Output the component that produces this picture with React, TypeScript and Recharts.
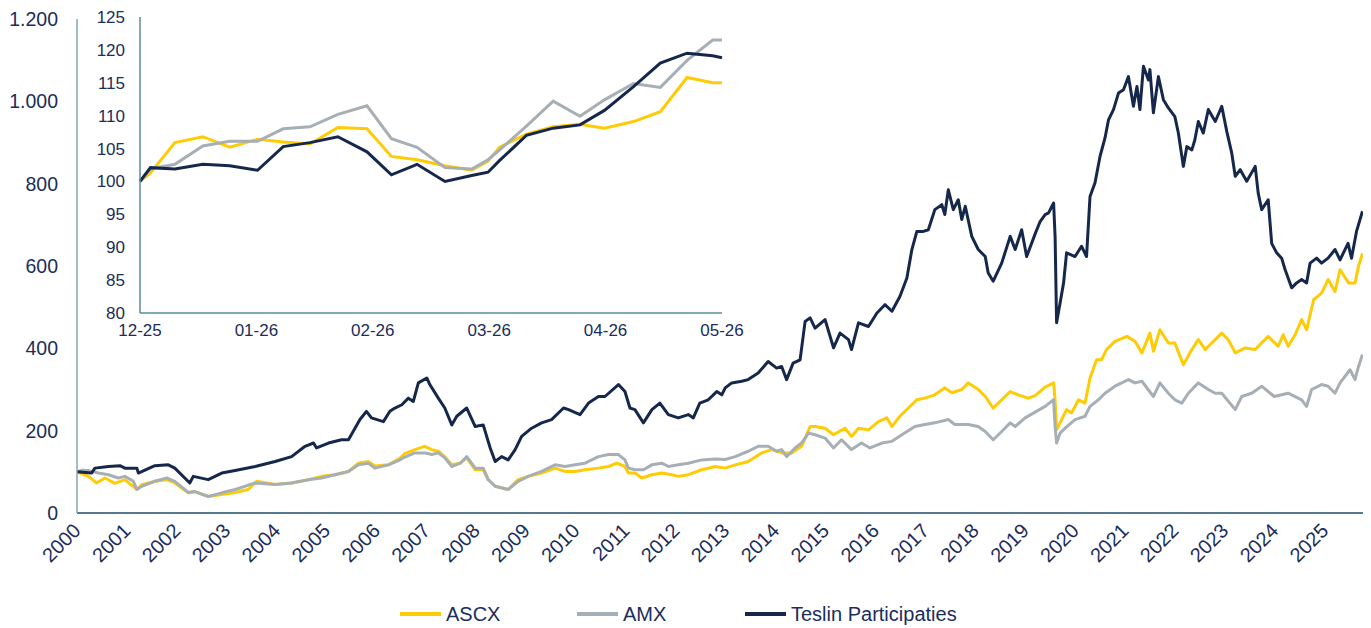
import { LineChart, Line, XAxis, YAxis } from 'recharts';

const FONT = '"Liberation Sans", Arial, Helvetica, sans-serif';
const TXT = '#1b2d5b';
const YELLOW = '#ffcb05';
const GREY = '#a7afb6';
const NAVY = '#15284b';

const seriesNames = ['ASCX', 'AMX', 'Teslin Participaties'];
const seriesColors = [YELLOW, GREY, NAVY];
const legendLeft = [400, 577, 745];

// main chart: [year, index]
const yearTicks = [
  2000, 2001, 2002, 2003, 2004, 2005, 2006, 2007, 2008, 2009, 2010, 2011, 2012,
  2013, 2014, 2015, 2016, 2017, 2018, 2019, 2020, 2021, 2022, 2023, 2024, 2025,
];
const mainYTicks = [0, 200, 400, 600, 800, 1000, 1200];

const ascx: [number, number][] = [
  [2000.0, 100], [2000.23, 89], [2000.39, 73], [2000.56, 85], [2000.76, 72], [2000.96, 81],
  [2001.2, 57], [2001.3, 69], [2001.56, 77], [2001.8, 81], [2001.96, 73], [2002.23, 49],
  [2002.36, 52], [2002.63, 40], [2002.9, 45], [2003.17, 50], [2003.43, 57], [2003.6, 77],
  [2003.97, 69], [2004.3, 73], [2004.64, 81], [2004.9, 89], [2005.17, 93], [2005.44, 101],
  [2005.64, 121], [2005.84, 125], [2005.97, 114], [2006.24, 117], [2006.47, 133], [2006.57, 144],
  [2006.77, 154], [2006.97, 162], [2007.11, 154], [2007.24, 150], [2007.37, 137], [2007.51, 117],
  [2007.68, 121], [2007.81, 134], [2007.98, 105], [2008.14, 105], [2008.24, 81], [2008.38, 65],
  [2008.64, 57], [2008.84, 81], [2009.04, 89], [2009.31, 97], [2009.58, 109], [2009.78, 101],
  [2009.98, 101], [2010.18, 105], [2010.45, 109], [2010.65, 113], [2010.82, 121], [2010.98, 113],
  [2011.05, 97], [2011.18, 97], [2011.32, 85], [2011.52, 93], [2011.72, 97], [2011.92, 93],
  [2012.05, 89], [2012.25, 93], [2012.52, 105], [2012.79, 113], [2012.99, 109], [2013.19, 117],
  [2013.45, 125], [2013.72, 146], [2013.92, 154], [2014.12, 146], [2014.32, 146], [2014.52, 162],
  [2014.69, 210], [2014.79, 210], [2014.99, 206], [2015.16, 190], [2015.39, 206], [2015.52, 186],
  [2015.66, 206], [2015.86, 202], [2016.06, 222], [2016.23, 231], [2016.33, 210], [2016.49, 235],
  [2016.66, 255], [2016.83, 275], [2016.99, 279], [2017.19, 287], [2017.39, 304], [2017.53, 292],
  [2017.73, 300], [2017.86, 316], [2018.06, 300], [2018.2, 283], [2018.36, 255], [2018.53, 275],
  [2018.7, 295], [2018.86, 287], [2019.06, 279], [2019.2, 285], [2019.4, 306], [2019.57, 316],
  [2019.6, 275], [2019.63, 202], [2019.73, 227], [2019.83, 251], [2019.93, 243], [2020.07, 275],
  [2020.2, 267], [2020.3, 328], [2020.43, 372], [2020.53, 372], [2020.63, 397], [2020.8, 417],
  [2021.04, 429], [2021.2, 417], [2021.34, 389], [2021.5, 437], [2021.57, 393], [2021.7, 445],
  [2021.87, 413], [2022.0, 413], [2022.17, 360], [2022.34, 397], [2022.47, 421], [2022.61, 397],
  [2022.74, 413], [2022.94, 437], [2023.07, 421], [2023.21, 389], [2023.41, 401], [2023.61, 397],
  [2023.87, 429], [2024.07, 405], [2024.17, 433], [2024.27, 405], [2024.41, 433], [2024.54, 470],
  [2024.64, 445], [2024.78, 518], [2024.94, 534], [2025.07, 567], [2025.21, 538], [2025.31, 591],
  [2025.48, 559], [2025.61, 559], [2025.68, 599], [2025.76, 631],
];

const amx: [number, number][] = [
  [2000.0, 100], [2000.1, 104], [2000.23, 103], [2000.43, 97], [2000.63, 93], [2000.83, 85],
  [2000.96, 89], [2001.13, 77], [2001.2, 57], [2001.3, 65], [2001.56, 77], [2001.8, 85],
  [2001.96, 77], [2002.23, 50], [2002.36, 52], [2002.63, 40], [2002.9, 49], [2003.17, 57],
  [2003.57, 73], [2003.97, 69], [2004.3, 73], [2004.64, 81], [2004.9, 85], [2005.17, 93],
  [2005.44, 101], [2005.64, 117], [2005.84, 121], [2005.97, 109], [2006.24, 117], [2006.47, 129],
  [2006.57, 136], [2006.77, 146], [2006.97, 146], [2007.11, 142], [2007.24, 146], [2007.37, 134],
  [2007.51, 113], [2007.68, 121], [2007.81, 137], [2007.98, 109], [2008.14, 109], [2008.24, 81],
  [2008.38, 65], [2008.64, 57], [2008.84, 77], [2009.04, 89], [2009.31, 101], [2009.58, 117],
  [2009.78, 113], [2009.98, 117], [2010.18, 121], [2010.45, 137], [2010.65, 142], [2010.85, 142],
  [2010.98, 129], [2011.05, 109], [2011.18, 105], [2011.35, 105], [2011.52, 117], [2011.72, 121],
  [2011.85, 113], [2012.05, 117], [2012.25, 121], [2012.52, 129], [2012.79, 131], [2012.99, 130],
  [2013.19, 137], [2013.45, 150], [2013.65, 162], [2013.85, 162], [2014.02, 150], [2014.12, 154],
  [2014.22, 137], [2014.39, 158], [2014.52, 170], [2014.66, 194], [2014.79, 190], [2014.99, 182],
  [2015.16, 158], [2015.32, 178], [2015.52, 154], [2015.72, 170], [2015.89, 158], [2016.13, 170],
  [2016.33, 174], [2016.53, 190], [2016.79, 210], [2016.99, 215], [2017.19, 219], [2017.46, 227],
  [2017.59, 215], [2017.86, 215], [2018.06, 210], [2018.2, 198], [2018.36, 178], [2018.53, 198],
  [2018.7, 219], [2018.8, 210], [2019.0, 231], [2019.2, 245], [2019.4, 259], [2019.57, 275],
  [2019.6, 210], [2019.63, 170], [2019.7, 194], [2019.8, 206], [2020.0, 227], [2020.2, 235],
  [2020.3, 259], [2020.47, 275], [2020.6, 291], [2020.8, 308], [2021.07, 324], [2021.2, 316],
  [2021.34, 320], [2021.57, 283], [2021.7, 316], [2021.87, 291], [2022.0, 275], [2022.14, 267],
  [2022.27, 291], [2022.47, 316], [2022.67, 300], [2022.81, 291], [2022.94, 291], [2023.21, 251],
  [2023.34, 283], [2023.54, 291], [2023.74, 308], [2023.99, 283], [2024.27, 291], [2024.54, 275],
  [2024.64, 259], [2024.74, 300], [2024.94, 312], [2025.07, 308], [2025.21, 291], [2025.31, 316],
  [2025.51, 348], [2025.61, 324], [2025.68, 356], [2025.76, 385],
];

const teslin: [number, number][] = [
  [2000.0, 100], [2000.29, 97], [2000.36, 109], [2000.63, 113], [2000.86, 115], [2000.96, 109],
  [2001.2, 109], [2001.23, 97], [2001.56, 115], [2001.83, 117], [2001.96, 109], [2002.26, 73],
  [2002.33, 89], [2002.63, 81], [2002.9, 97], [2003.17, 103], [2003.57, 113], [2003.97, 125],
  [2004.3, 137], [2004.57, 162], [2004.74, 170], [2004.8, 158], [2005.04, 170], [2005.3, 178],
  [2005.44, 178], [2005.67, 227], [2005.8, 247], [2005.9, 231], [2006.14, 222], [2006.27, 247],
  [2006.37, 255], [2006.51, 263], [2006.64, 279], [2006.74, 271], [2006.84, 316], [2007.01, 328],
  [2007.07, 312], [2007.24, 279], [2007.37, 255], [2007.51, 214], [2007.61, 235], [2007.81, 255],
  [2007.98, 210], [2008.14, 214], [2008.28, 158], [2008.38, 125], [2008.51, 137], [2008.64, 129],
  [2008.78, 154], [2008.91, 186], [2009.11, 206], [2009.31, 219], [2009.51, 227], [2009.75, 255],
  [2009.85, 251], [2010.08, 239], [2010.25, 267], [2010.45, 283], [2010.58, 283], [2010.85, 312],
  [2010.98, 295], [2011.08, 255], [2011.18, 251], [2011.35, 219], [2011.52, 251], [2011.68, 267],
  [2011.85, 239], [2012.05, 231], [2012.25, 239], [2012.35, 231], [2012.48, 267], [2012.65, 275],
  [2012.82, 295], [2012.92, 287], [2012.99, 304], [2013.12, 316], [2013.32, 320], [2013.45, 324],
  [2013.65, 340], [2013.85, 368], [2014.02, 352], [2014.12, 356], [2014.22, 324], [2014.35, 364],
  [2014.49, 372], [2014.59, 465], [2014.69, 474], [2014.79, 449], [2014.99, 470], [2015.16, 401],
  [2015.29, 437], [2015.46, 421], [2015.52, 397], [2015.66, 462], [2015.86, 453], [2016.03, 486],
  [2016.19, 506], [2016.33, 490], [2016.49, 526], [2016.63, 571], [2016.73, 640], [2016.83, 684],
  [2016.96, 684], [2017.06, 688], [2017.19, 737], [2017.33, 749], [2017.39, 725], [2017.46, 785],
  [2017.56, 737], [2017.66, 761], [2017.73, 713], [2017.8, 745], [2017.93, 672], [2018.06, 640],
  [2018.2, 623], [2018.26, 583], [2018.36, 563], [2018.53, 607], [2018.7, 672], [2018.8, 640],
  [2018.93, 688], [2019.03, 623], [2019.2, 678], [2019.3, 708], [2019.4, 725], [2019.47, 729],
  [2019.57, 753], [2019.6, 672], [2019.63, 462], [2019.7, 510], [2019.77, 559], [2019.83, 632],
  [2020.0, 623], [2020.13, 648], [2020.23, 623], [2020.3, 769], [2020.4, 802], [2020.5, 866],
  [2020.6, 911], [2020.67, 955], [2020.77, 980], [2020.87, 1020], [2020.97, 1028], [2021.07, 1060],
  [2021.17, 988], [2021.24, 1036], [2021.3, 980], [2021.37, 1085], [2021.47, 1052], [2021.5, 1077],
  [2021.57, 972], [2021.67, 1060], [2021.77, 1004], [2021.87, 984], [2022.0, 963], [2022.07, 923],
  [2022.17, 842], [2022.24, 890], [2022.34, 882], [2022.4, 906], [2022.47, 951], [2022.57, 923],
  [2022.67, 980], [2022.81, 951], [2022.94, 988], [2023.04, 927], [2023.14, 874], [2023.21, 818],
  [2023.31, 834], [2023.44, 806], [2023.61, 842], [2023.67, 777], [2023.74, 737], [2023.87, 761],
  [2023.94, 655], [2024.04, 632], [2024.14, 619], [2024.21, 591], [2024.34, 547], [2024.44, 559],
  [2024.54, 567], [2024.64, 559], [2024.71, 607], [2024.84, 619], [2024.94, 607], [2025.07, 619],
  [2025.21, 640], [2025.31, 615], [2025.47, 655], [2025.54, 619], [2025.64, 684], [2025.76, 733],
];

// inset: months since 12-25
const insetLabels = ['12-25', '01-26', '02-26', '03-26', '04-26', '05-26'];
const insetYTicks = [80, 85, 90, 95, 100, 105, 110, 115, 120, 125];
const insetT = [
  0, 0.09, 0.3, 0.54, 0.77, 1.01, 1.23, 1.46, 1.7, 1.95, 2.16, 2.38, 2.62,
  2.85, 2.99, 3.09, 3.32, 3.55, 3.78, 3.99, 4.24, 4.47, 4.7, 4.92, 5,
];
const insetAscx = [
  100, 101.3, 105.9, 106.8, 105.2, 106.4, 106.0, 105.7, 108.2, 108.0, 103.8, 103.3, 102.4,
  101.7, 103.1, 105.2, 107.2, 108.3, 108.7, 108.1, 109.1, 110.6, 115.8, 115.0, 115.0,
];
const insetAmx = [
  100, 101.9, 102.6, 105.4, 106.1, 106.1, 108.0, 108.3, 110.2, 111.5, 106.5, 105.2, 102.1,
  101.9, 103.3, 104.8, 108.4, 112.2, 109.9, 112.4, 114.9, 114.3, 118.4, 121.5, 121.5,
];
const insetTeslin = [
  100, 102.1, 101.9, 102.6, 102.4, 101.7, 105.3, 105.9, 106.8, 104.5, 101.0, 102.6, 100.0,
  100.9, 101.4, 103.2, 107.0, 108.1, 108.6, 110.8, 114.4, 118.0, 119.5, 119.1, 118.8,
];

const toPts = (arr: [number, number][]) => arr.map(([x, v]) => ({ x, v }));
const mainSeries = [toPts(ascx), toPts(amx), toPts(teslin)];
const insetRows = insetT.map((t, i) => ({
  t,
  a: insetAscx[i],
  b: insetAmx[i],
  c: insetTeslin[i],
}));

const fmtThousands = (v: number) =>
  v >= 1000 ? `${Math.floor(v / 1000)}.${String(v % 1000).padStart(3, '0')}` : String(v);

const YearTick = ({ x, y, payload }: any) => (
  <g transform={`translate(${x},${y + 6}) rotate(-45)`}>
    <text x={0} y={0} dy="0.35em" textAnchor="end" fill={TXT} fontSize={20} fontFamily={FONT}>
      {payload.value}
    </text>
  </g>
);

export default function App() {
  return (
    <div
      style={{
        position: 'absolute',
        left: 0,
        top: 0,
        width: 1371,
        height: 628,
        background: '#fff',
        fontFamily: FONT,
      }}
    >
      <LineChart width={1371} height={628} margin={{ top: 19, right: 8, bottom: 55, left: 0 }}>
        <XAxis
          type="number"
          dataKey="x"
          domain={[2000, 2025.77]}
          ticks={yearTicks}
          interval={0}
          allowDataOverflow
          height={60}
          tickLine={false}
          axisLine={{ stroke: '#1f4d6a', strokeWidth: 1.5 }}
          tick={<YearTick />}
        />
        <YAxis
          type="number"
          domain={[0, 1200]}
          ticks={mainYTicks}
          interval={0}
          width={77}
          tickLine={false}
          tickMargin={13}
          axisLine={{ stroke: '#82a6b0', strokeWidth: 1.5 }}
          tick={{ fill: TXT, fontSize: 19.5, fontFamily: FONT }}
          tickFormatter={fmtThousands}
        />
        {mainSeries.map((pts, i) => (
          <Line
            key={seriesNames[i]}
            data={pts}
            dataKey="v"
            name={seriesNames[i]}
            type="linear"
            stroke={seriesColors[i]}
            strokeWidth={3}
            strokeLinejoin="round"
            dot={false}
            isAnimationActive={false}
          />
        ))}
      </LineChart>

      {/* inset: last months */}
      <div style={{ position: 'absolute', left: 0, top: 0 }}>
        <LineChart width={770} height={345} data={insetRows} margin={{ top: 17, right: 48, bottom: 0, left: 0 }}>
          <XAxis
            type="number"
            dataKey="t"
            domain={[0, 5]}
            ticks={[0, 1, 2, 3, 4, 5]}
            interval={0}
            height={32}
            tickLine={false}
            tickMargin={5}
            axisLine={{ stroke: '#5b8d99', strokeWidth: 1.5 }}
            tick={{ fill: TXT, fontSize: 17, fontFamily: FONT }}
            tickFormatter={(t: number) => insetLabels[t]}
          />
          <YAxis
            type="number"
            domain={[80, 125]}
            ticks={insetYTicks}
            interval={0}
            width={140}
            tickLine={false}
            tickMargin={9}
            axisLine={{ stroke: '#5b8d99', strokeWidth: 1.5 }}
            tick={{ fill: TXT, fontSize: 17, fontFamily: FONT }}
          />
          <Line dataKey="a" stroke={YELLOW} strokeWidth={3} dot={false} isAnimationActive={false} />
          <Line dataKey="b" stroke={GREY} strokeWidth={3} dot={false} isAnimationActive={false} />
          <Line dataKey="c" stroke={NAVY} strokeWidth={3} dot={false} isAnimationActive={false} />
        </LineChart>
      </div>

      {/* Legend */}
      {seriesNames.map((name, i) => (
        <div
          key={name}
          style={{
            position: 'absolute',
            left: legendLeft[i],
            top: 603,
            display: 'flex',
            alignItems: 'center',
            fontSize: 20,
            lineHeight: '22px',
            color: TXT,
            whiteSpace: 'nowrap',
          }}
        >
          <span style={{ display: 'inline-block', width: 41, height: 4, background: seriesColors[i], marginRight: 5 }} />
          <span>{name}</span>
        </div>
      ))}
    </div>
  );
}
